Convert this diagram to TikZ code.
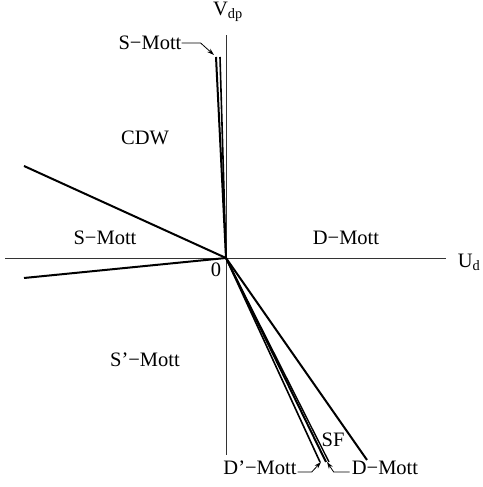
\documentclass[tikz,border=0pt]{standalone}
\usepackage{fontspec}
\setmainfont{Liberation Serif}
\usetikzlibrary{arrows.meta, positioning, calc}

\begin{document}
\begin{tikzpicture}[x=1pt, y=1pt,
    lbl/.style={font=\fontsize{20.5}{24}\selectfont, inner sep=0pt},
    phase/.style={line width=2pt},
    axis/.style={line width=0.9pt, black!80},
    lead/.style={line width=0.8pt, -{Stealth[length=7pt, width=4.5pt]}}]
    \useasboundingbox (0,0) rectangle (482,487);

    \coordinate (O) at (226,229);
    \coordinate (upA) at (216,430);
    \coordinate (upB) at (220,430);
    \coordinate (left1) at (24,321);
    \coordinate (left2) at (24,209);
    \coordinate (dpr) at (320,25);
    \coordinate (dm1) at (326,25);
    \coordinate (dm2) at (329,25);
    \coordinate (sf) at (367,27);

    % axes
    \draw[axis] (5,229) -- (446,229);
    \draw[axis] (226,32) -- (226,452);
    \node[lbl] (Ud) at (469,225) {U\textsubscript{d}};
    \node[lbl] (Vdp) at (228,475) {V\textsubscript{dp}};
    \node[lbl] (zero) at (216,217) {0};

    % phase boundaries
    \draw[phase] (O) -- (upA);
    \draw[phase, line width=1.6pt] (O) -- (upB);
    \draw[phase] (O) -- (left1);
    \draw[phase] (O) -- (left2);
    \draw[phase, line width=1.6pt] (O) -- (dpr);
    \draw[phase] (O) -- (dm1);
    \draw[phase, line width=1.4pt] (O) -- (dm2);
    \draw[phase] (O) -- (sf);

    % regions
    \node[lbl] (cdw) at (145,349) {CDW};
    \node[lbl] (smleft) at (105,249) {S−Mott};
    \node[lbl] (dmright) at (346,249) {D−Mott};
    \node[lbl] (spm) at (145,127) {S’−Mott};
    \node[lbl] (sfl) at (333,47) {SF};

    % labels with leaders
    \node[lbl] (smtop) at (150,444) {S−Mott};
    \draw[lead] (smtop.east) -- ++(19,0) -- ($(upA)+(-2,2)$);
    \node[lbl] (dpm) at (260,19) {D’−Mott};
    \node[lbl] (dmb) at (385,19) {D−Mott};
    \draw[lead] (dpm.east) ++(1,-4) -- ++(14,0) -- ($(dpr)+(1,0)$);
    \draw[lead] (dmb.west) ++(-2,-4) -- ++(-16,0) -- ($(dm1)+(1,0)$);
\end{tikzpicture}
\end{document}
